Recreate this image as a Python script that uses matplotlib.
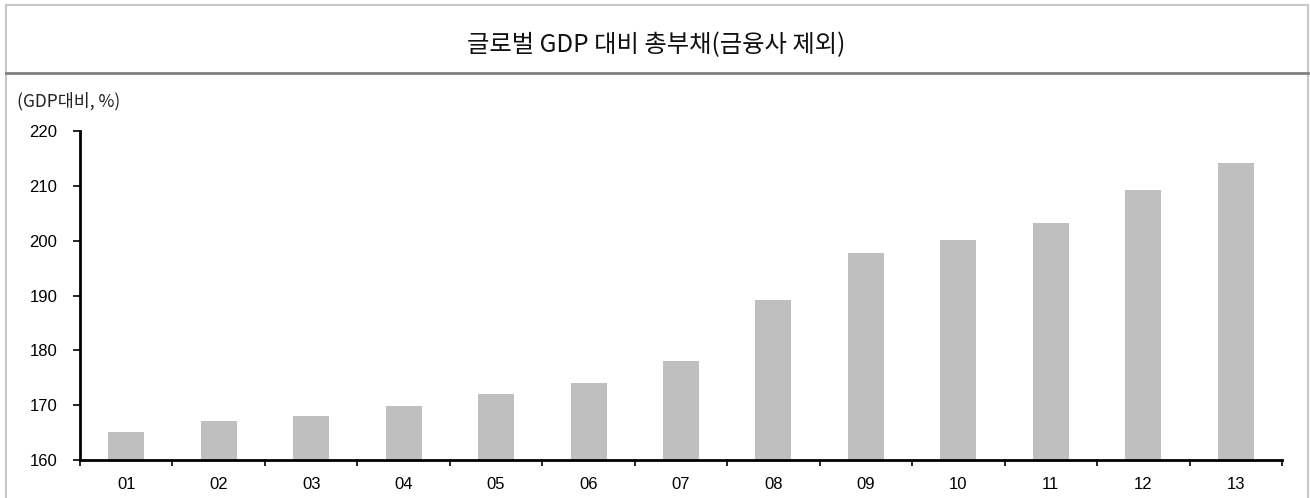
import numpy as np
from matplotlib import pyplot as plt
from matplotlib.lines import Line2D

plt.rcParams['font.family'] = ['Liberation Sans Narrow', 'Liberation Sans', 'Noto Sans CJK KR', 'DejaVu Sans']

years = ['01', '02', '03', '04', '05', '06', '07', '08', '09', '10', '11', '12', '13']
debt_ratio = [165.1, 167.1, 168.1, 169.9, 172.0, 174.0, 178.0, 189.1, 197.7, 200.2, 203.2, 209.2, 214.1]
yticks = [160, 170, 180, 190, 200, 210, 220]

title = '글로벌 GDP 대비 총부채(금융사 제외)'
unit = '(GDP대비, %)'

W, H = 1310, 498
fig = plt.figure(figsize=(W / 100, H / 100), dpi=100)

# frame around the whole chart and the title separator
border = '#c8c8c8'
fig.add_artist(Line2D([6 / W, 6 / W], [0, 1 - 5 / H], color=border, lw=1.5))
fig.add_artist(Line2D([6 / W, 1308 / W], [1 - 5 / H, 1 - 5 / H], color=border, lw=1.5))
fig.add_artist(Line2D([1308 / W, 1308 / W], [0, 1 - 5 / H], color=border, lw=1.5))
fig.add_artist(Line2D([6 / W, 1308 / W], [1 - 73 / H, 1 - 73 / H], color='#808080', lw=2))

fig.text(656 / W, 1 - 45 / H, title, ha='center', va='center', fontsize=17.5,
         family=['Noto Sans CJK KR', 'DejaVu Sans'], fontweight='medium', color='#111111')
fig.text(17 / W, 1 - 101 / H, unit, ha='left', va='center', fontsize=12.5,
         family=['Noto Sans CJK KR', 'DejaVu Sans'], color='#222222')

ax = fig.add_axes([80 / W, 1 - 460 / H, (1282 - 80) / W, (460 - 131) / H])
x = np.arange(len(years))
ax.bar(x, debt_ratio, width=0.39, color='#bfbfbf', edgecolor='none', zorder=2)

ax.set_xlim(-0.5, len(years) - 0.5)
ax.set_ylim(160, 220)
ax.set_yticks(yticks)
ax.set_yticklabels([str(v) for v in yticks], fontsize=12)
ax.set_xticks(x)
ax.set_xticklabels(years, fontsize=12)
ax.set_xticks(np.arange(-0.5, len(years)), minor=True)
ax.tick_params(axis='x', which='major', length=0, pad=12)
ax.tick_params(axis='x', which='minor', length=4, width=1.2, direction='out')
ax.tick_params(axis='y', length=4.8, width=1.2, direction='out', pad=11.5)

for s in ['top', 'right']:
    ax.spines[s].set_visible(False)
for s in ['left', 'bottom']:
    ax.spines[s].set_linewidth(2)
    ax.spines[s].set_color('black')

fig.savefig('out.png', dpi=100)
